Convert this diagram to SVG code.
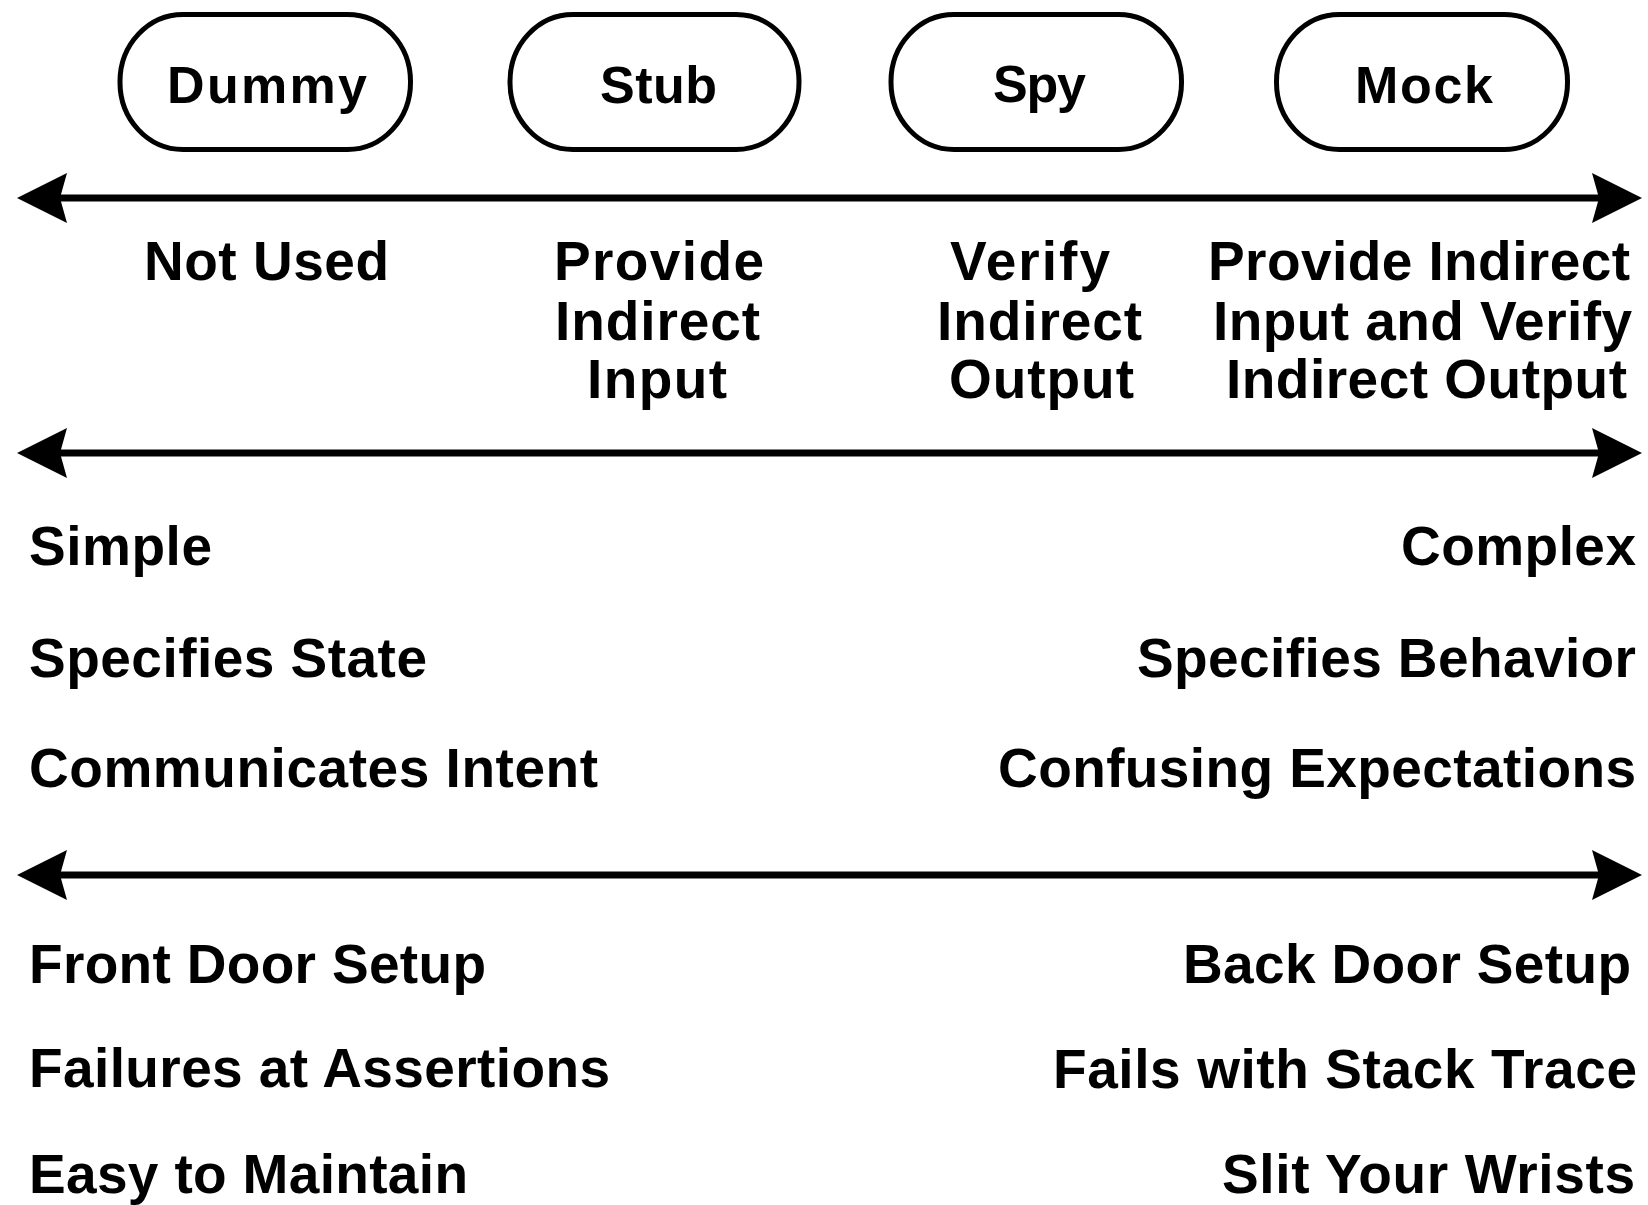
<svg xmlns="http://www.w3.org/2000/svg" width="1648" height="1205" viewBox="0 0 1648 1205">
<style>
.node{fill:#fff;stroke:#000;stroke-width:5}
.nt{font-family:"Liberation Sans",Arial,sans-serif;font-weight:bold;font-size:52px;fill:#000}
.t{font-family:"Liberation Sans",Arial,sans-serif;font-weight:bold;font-size:55px;fill:#000}
.axis{stroke:#000;stroke-width:7;fill:none;marker-start:url(#ah);marker-end:url(#ah)}
</style>
<defs>
<marker id="ah" viewBox="-32 -28 54 56" refX="0" refY="0" markerWidth="54" markerHeight="56" markerUnits="userSpaceOnUse" orient="auto-start-reverse">
<path d="M20,0 L-30,-25 L-23,0 L-30,25 Z" fill="#000"/>
</marker>
</defs>
<rect width="1648" height="1205" fill="#fff"/>
<g id="dummy">
<rect class="node" x="120" y="14.5" width="290.5" height="135" rx="63" ry="67"/>
<text class="nt" x="167" y="103" textLength="200">Dummy</text>
</g>
<g id="stub">
<rect class="node" x="510" y="14.5" width="289" height="135" rx="63" ry="67"/>
<text class="nt" x="600" y="103" textLength="117">Stub</text>
</g>
<g id="spy">
<rect class="node" x="891" y="14.5" width="290.5" height="135" rx="63" ry="67"/>
<text class="nt" x="993" y="102" textLength="93">Spy</text>
</g>
<g id="mock">
<rect class="node" x="1276.5" y="14.5" width="291" height="135" rx="63" ry="67"/>
<text class="nt" x="1355" y="103" textLength="138">Mock</text>
</g>
<g id="connectors">
<path class="axis" d="M37,198 H1622"/>
<path class="axis" d="M37,453 H1622"/>
<path class="axis" d="M37,875 H1622"/>
</g>
<g id="roles">
<text class="t" x="144" y="280" textLength="245">Not Used</text>
<text class="t" x="554" y="280" textLength="210">Provide</text>
<text class="t" x="555" y="340" textLength="205">Indirect</text>
<text class="t" x="587" y="398" textLength="140">Input</text>
<text class="t" x="950" y="280" textLength="160">Verify</text>
<text class="t" x="937" y="340" textLength="205">Indirect</text>
<text class="t" x="949" y="398" textLength="185">Output</text>
<text class="t" x="1208" y="280" textLength="422">Provide Indirect</text>
<text class="t" x="1213" y="340" textLength="419">Input and Verify</text>
<text class="t" x="1226" y="398" textLength="401">Indirect Output</text>
</g>
<g id="traits">
<text class="t" x="29" y="565" textLength="183">Simple</text>
<text class="t" x="1401" y="565" textLength="235">Complex</text>
<text class="t" x="29" y="677" textLength="398">Specifies State</text>
<text class="t" x="1137" y="677" textLength="499">Specifies Behavior</text>
<text class="t" x="29" y="787" textLength="569">Communicates Intent</text>
<text class="t" x="998" y="787" textLength="638">Confusing Expectations</text>
<text class="t" x="29" y="983" textLength="457">Front Door Setup</text>
<text class="t" x="1183" y="983" textLength="448">Back Door Setup</text>
<text class="t" x="29" y="1087" textLength="581">Failures at Assertions</text>
<text class="t" x="1053" y="1088" textLength="584">Fails with Stack Trace</text>
<text class="t" x="29" y="1193" textLength="439">Easy to Maintain</text>
<text class="t" x="1222" y="1193" textLength="413">Slit Your Wrists</text>
</g>
</svg>
